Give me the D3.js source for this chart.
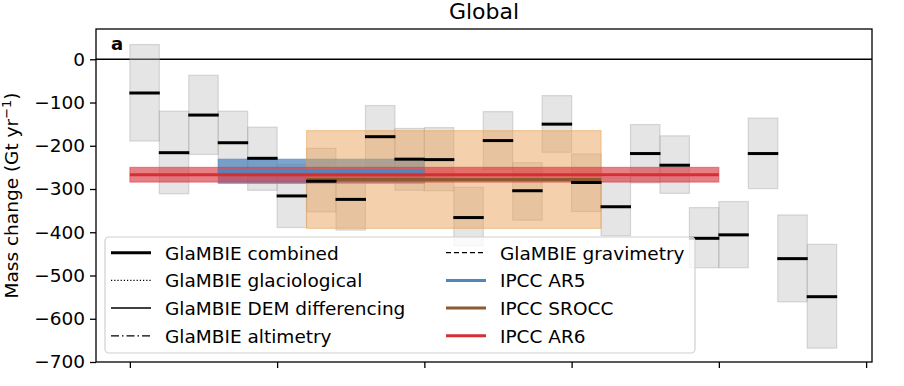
<!DOCTYPE html>
<html>
<head>
<meta charset="utf-8">
<script src="https://cdn.jsdelivr.net/npm/d3@7"></script>
<style>
  body { margin: 0; background: #fff; }
  svg text { font-family: "DejaVu Sans", sans-serif; fill: #000; }
</style>
</head>
<body>
<svg id="chart" width="904" height="386"></svg>
<script>
// Hydrological years (each bar spans [year, year + 1]).
const years = [2000, 2001, 2002, 2003, 2004, 2005, 2006, 2007, 2008, 2009, 2010, 2011,
               2012, 2013, 2014, 2015, 2016, 2017, 2018, 2019, 2020, 2021, 2022, 2023];
// GlaMBIE combined estimate and its uncertainty range (Gt per year).
const combined = [-78, -216, -129, -193, -229, -316, -282, -324, -179, -231, -232, -366,
                  -188, -304, -150, -285, -341, -218, -245, -414, -406, -218, -461, -549];
const upper = [34, -120, -37, -120, -157, -243, -206, -253, -107, -160, -158, -296,
               -121, -239, -84, -219, -274, -151, -177, -343, -329, -136, -360, -428];
const lower = [-189, -311, -220, -266, -303, -389, -353, -395, -251, -303, -304, -431,
               -255, -372, -215, -352, -408, -286, -310, -482, -482, -299, -561, -668];

// IPCC assessment periods, means and uncertainties.
const ipccNames = ['IPCC AR5', 'IPCC SROCC', 'IPCC AR6'];
const ipccStart = [2003, 2006, 2000];
const ipccEnd = [2010, 2016, 2020];
const ipccMean = [-259, -278, -267];
const ipccUnc = [28, 113, 17];

const yTicks = [0, -100, -200, -300, -400, -500, -600, -700];
const xTicks = [2000, 2005, 2010, 2015, 2020, 2025];
const legendLabels = ['GlaMBIE combined', 'GlaMBIE glaciological', 'GlaMBIE DEM differencing',
                      'GlaMBIE altimetry', 'GlaMBIE gravimetry', 'IPCC AR5', 'IPCC SROCC', 'IPCC AR6'];

const ipccLine = ['#4f86bf', '#8c5a2e', '#d42f33'];
const ipccFill = ['#4f86bf', '#eaa35a', '#dc3a44'];
const ipccAlpha = [0.75, 0.5, 0.65];

const svg = d3.select('#chart');
const plot = {left: 96, right: 872, top: 29, bottom: 362};

const x = d3.scaleLinear().domain([1998.85, 2025.2]).range([plot.left, plot.right]);
const y = d3.scaleLinear().domain([-700, 70]).range([plot.bottom, plot.top]);

const clip = svg.append('clipPath').attr('id', 'plotClip')
    .append('rect')
    .attr('x', plot.left).attr('y', plot.top)
    .attr('width', plot.right - plot.left).attr('height', plot.bottom - plot.top);

const g = svg.append('g').attr('clip-path', 'url(#plotClip)');

// Zero reference line.
g.append('line')
    .attr('x1', plot.left).attr('x2', plot.right)
    .attr('y1', y(0)).attr('y2', y(0))
    .attr('stroke', '#000').attr('stroke-width', 1.3);

// Uncertainty boxes.
g.selectAll('rect.unc')
    .data(years)
    .join('rect')
    .attr('class', 'unc')
    .attr('x', d => x(d))
    .attr('width', d => x(d + 1) - x(d))
    .attr('y', (d, i) => y(upper[i]))
    .attr('height', (d, i) => y(lower[i]) - y(upper[i]))
    .attr('fill', '#bdbdbd').attr('fill-opacity', 0.4)
    .attr('stroke', '#9a9a9a').attr('stroke-opacity', 0.35).attr('stroke-width', 1.2);

// IPCC bands.
g.selectAll('rect.ipcc')
    .data(ipccNames)
    .join('rect')
    .attr('class', 'ipcc')
    .attr('x', (d, i) => x(ipccStart[i]))
    .attr('width', (d, i) => x(ipccEnd[i]) - x(ipccStart[i]))
    .attr('y', (d, i) => y(ipccMean[i] + ipccUnc[i]))
    .attr('height', (d, i) => y(ipccMean[i] - ipccUnc[i]) - y(ipccMean[i] + ipccUnc[i]))
    .attr('fill', (d, i) => ipccFill[i]).attr('fill-opacity', (d, i) => ipccAlpha[i])
    .attr('stroke', (d, i) => ipccFill[i]).attr('stroke-opacity', 0.5).attr('stroke-width', 1.2);

g.selectAll('line.ipcc')
    .data(ipccNames)
    .join('line')
    .attr('class', 'ipcc')
    .attr('x1', (d, i) => x(ipccStart[i]))
    .attr('x2', (d, i) => x(ipccEnd[i]))
    .attr('y1', (d, i) => y(ipccMean[i]))
    .attr('y2', (d, i) => y(ipccMean[i]))
    .attr('stroke', (d, i) => ipccLine[i]).attr('stroke-width', 3);

// Combined annual estimates.
g.selectAll('line.comb')
    .data(years)
    .join('line')
    .attr('class', 'comb')
    .attr('x1', d => x(d) + 1).attr('x2', d => x(d + 1) - 1)
    .attr('y1', (d, i) => y(combined[i])).attr('y2', (d, i) => y(combined[i]))
    .attr('stroke', '#000').attr('stroke-width', 3).attr('stroke-linecap', 'square');

// Axes.
svg.append('g')
    .attr('transform', `translate(0,${plot.bottom})`)
    .call(d3.axisBottom(x).tickValues(xTicks).tickFormat('').tickSize(6).tickSizeOuter(0))
    .call(a => a.select('.domain').remove())
    .call(a => a.selectAll('line').attr('stroke-width', 1.3));

svg.append('g')
    .attr('transform', `translate(${plot.left},0)`)
    .call(d3.axisLeft(y).tickValues(yTicks).tickSize(6).tickPadding(5)
        .tickFormat(d => d3.format('d')(d).replace('-', '\u2212')))
    .call(a => a.select('.domain').remove())
    .call(a => a.selectAll('line').attr('stroke-width', 1.3))
    .call(a => a.selectAll('text')
        .attr('font-size', 18.5).attr('font-family', '"DejaVu Sans", sans-serif').attr('fill', '#000'));

// Frame.
svg.append('rect')
    .attr('x', plot.left).attr('y', plot.top)
    .attr('width', plot.right - plot.left).attr('height', plot.bottom - plot.top)
    .attr('fill', 'none').attr('stroke', '#000').attr('stroke-width', 1.3);

// Labels.
svg.append('text')
    .attr('x', (plot.left + plot.right) / 2).attr('y', 19)
    .attr('text-anchor', 'middle').attr('font-size', 22)
    .text('Global');

svg.append('text')
    .attr('x', 111).attr('y', 50)
    .attr('font-size', 18).attr('font-weight', 'bold')
    .text('a');

const yl = svg.append('text')
    .attr('transform', `translate(18,${(plot.top + plot.bottom) / 2}) rotate(-90)`)
    .attr('text-anchor', 'middle').attr('font-size', 18.5);
yl.append('tspan').text('Mass change (Gt yr');
yl.append('tspan').attr('dy', -7).attr('font-size', 13).text('\u22121');
yl.append('tspan').attr('dy', 7).text(')');

// Legend.
const legend = svg.append('g');
legend.append('rect')
    .attr('x', 105).attr('y', 237).attr('width', 590).attr('height', 116).attr('rx', 4)
    .attr('fill', '#fff').attr('fill-opacity', 0.8)
    .attr('stroke', '#d0d0d0').attr('stroke-width', 1.2);

const handleStyles = [
  {color: '#000', width: 3, dash: null},
  {color: '#000', width: 1.2, dash: '1.2,2'},
  {color: '#000', width: 1.5, dash: null},
  {color: '#000', width: 1.2, dash: '8,3,1.5,3'},
  {color: '#000', width: 1.2, dash: '5,3'},
  {color: ipccLine[0], width: 3, dash: null},
  {color: ipccLine[1], width: 3, dash: null},
  {color: ipccLine[2], width: 3, dash: null},
];

const entries = legend.selectAll('g.entry')
    .data(legendLabels)
    .join('g')
    .attr('class', 'entry')
    .attr('transform', (d, i) => `translate(${i < 4 ? 111 : 446},${252.7 + (i % 4) * 27.7})`);

entries.append('line')
    .attr('x1', 0).attr('x2', 40).attr('y1', 0).attr('y2', 0)
    .attr('stroke', (d, i) => handleStyles[i].color)
    .attr('stroke-width', (d, i) => handleStyles[i].width)
    .attr('stroke-dasharray', (d, i) => handleStyles[i].dash);

entries.append('text')
    .attr('x', 54).attr('y', 6.8)
    .attr('font-size', 18.5)
    .text(d => d);
</script>
</body>
</html>
